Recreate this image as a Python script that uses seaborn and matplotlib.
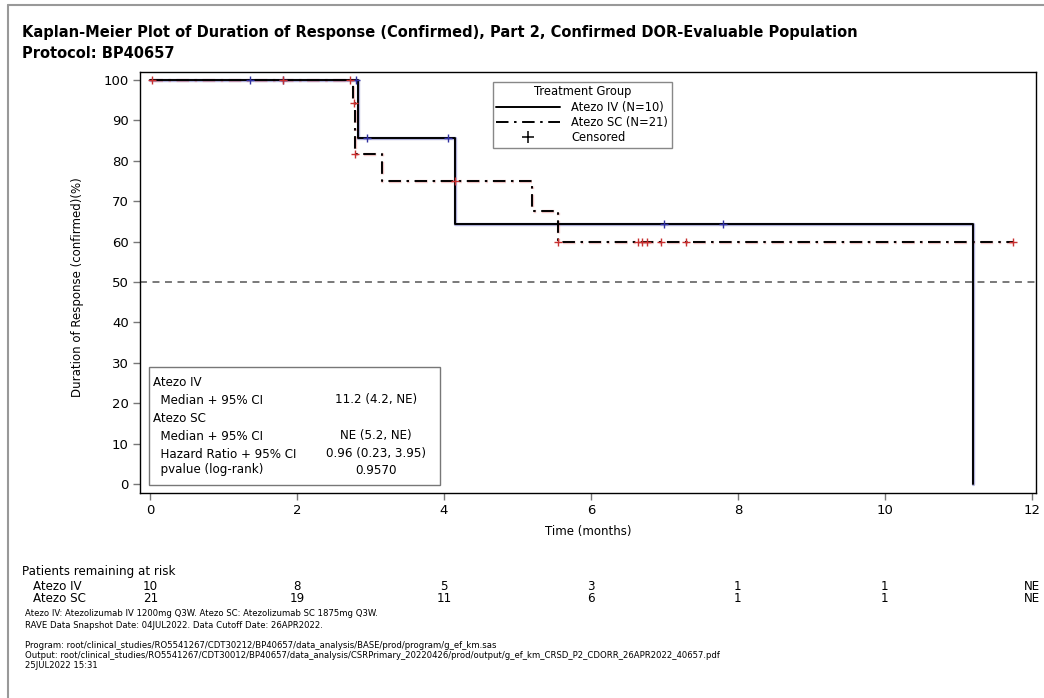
import matplotlib
matplotlib.use("Agg")
import matplotlib.pyplot as plt
import matplotlib.transforms as mtransforms
from matplotlib.lines import Line2D
from matplotlib.patches import Rectangle
import seaborn as sns
import pandas as pd

# ---------------- data ----------------
iv_time = [0, 2.83, 4.15, 11.2]
iv_surv = [100, 85.7, 64.3, 0]
sc_time = [0, 2.76, 2.79, 3.16, 5.2, 5.55, 11.75]
sc_surv = [100, 94.4, 81.8, 75, 67.5, 60, 60]

iv_cens_time = [1.36, 1.81, 2.80, 2.95, 4.05, 7.0, 7.8]
iv_cens_surv = [100, 100, 100, 85.7, 85.7, 64.3, 64.3]
sc_cens_time = [0.02, 1.81, 2.72, 2.77, 2.79, 4.15, 5.55, 6.64, 6.70, 6.76, 6.95, 7.3, 11.75]
sc_cens_surv = [100, 100, 100, 94.4, 81.8, 75, 60, 60, 60, 60, 60, 60, 60]

xticks = [0, 2, 4, 6, 8, 10, 12]
yticks = [0, 10, 20, 30, 40, 50, 60, 70, 80, 90, 100]
risk_iv = ["10", "8", "5", "3", "1", "1", "NE"]
risk_sc = ["21", "19", "11", "6", "1", "1", "NE"]

stats_labels = ["Atezo IV", "  Median + 95% CI", "Atezo SC", "  Median + 95% CI",
                "  Hazard Ratio + 95% CI", "  pvalue (log-rank)"]
stats_values = ["", "11.2 (4.2, NE)", "", "NE (5.2, NE)", "0.96 (0.23, 3.95)", "0.9570"]

title_lines = ["Kaplan-Meier Plot of Duration of Response (Confirmed), Part 2, Confirmed DOR-Evaluable Population",
               "Protocol: BP40657"]
footnotes = [
    "Atezo IV: Atezolizumab IV 1200mg Q3W. Atezo SC: Atezolizumab SC 1875mg Q3W.",
    "RAVE Data Snapshot Date: 04JUL2022. Data Cutoff Date: 26APR2022.",
    "",
    "Program: root/clinical_studies/RO5541267/CDT30212/BP40657/data_analysis/BASE/prod/program/g_ef_km.sas",
    "Output: root/clinical_studies/RO5541267/CDT30012/BP40657/data_analysis/CSRPrimary_20220426/prod/output/g_ef_km_CRSD_P2_CDORR_26APR2022_40657.pdf",
    "25JUL2022 15:31",
]

# ---------------- style ----------------
sns.set_theme(style="ticks")
plt.rcParams["font.family"] = ["DejaVu Sans"]
plt.rcParams["lines.scale_dashes"] = False
plt.rcParams["text.color"] = "black"
plt.rcParams["axes.labelcolor"] = "black"
plt.rcParams["xtick.color"] = "black"
plt.rcParams["ytick.color"] = "black"

W, H = 1044, 698
fig = plt.figure(figsize=(W / 100, H / 100), dpi=100)
fig.patch.set_facecolor("white")

def fx(px):
    return px / W

def fy(py):
    return 1 - py / H

ax_l, ax_r, ax_t, ax_b = 140, 1036, 72, 493
ax = fig.add_axes([fx(ax_l), fy(ax_b), fx(ax_r - ax_l), (ax_b - ax_t) / H])

iv_df = pd.DataFrame({"t": iv_time, "s": iv_surv})
sc_df = pd.DataFrame({"t": sc_time, "s": sc_surv})

dashdot = (0, (9, 4, 1.8, 4))

# 50% reference line
ax.axhline(50, color="#555555", lw=1.1, ls=(0, (5, 4)), zorder=1)

# Atezo IV (solid) with slight blue halo
sns.lineplot(data=iv_df, x="t", y="s", drawstyle="steps-post", estimator=None, sort=False,
             color="#3a3aa0", lw=2.4, alpha=0.4, ax=ax, zorder=2)
sns.lineplot(data=iv_df, x="t", y="s", drawstyle="steps-post", estimator=None, sort=False,
             color="black", lw=1.4, ax=ax, zorder=3)
# Atezo SC (dash-dot) with red halo
sns.lineplot(data=sc_df, x="t", y="s", drawstyle="steps-post", estimator=None, sort=False,
             color="#d04040", lw=2.4, alpha=0.3, ls=dashdot, ax=ax, zorder=2)
sns.lineplot(data=sc_df, x="t", y="s", drawstyle="steps-post", estimator=None, sort=False,
             color="black", lw=1.4, ls=dashdot, ax=ax, zorder=3)

# censor marks
sns.scatterplot(x=iv_cens_time, y=iv_cens_surv, marker="+", s=28, color="#3030a0",
                linewidth=1.0, ax=ax, zorder=4)
sns.scatterplot(x=sc_cens_time, y=sc_cens_surv, marker="+", s=28, color="#c83030",
                linewidth=1.0, ax=ax, zorder=4)

ax.set_xlim(-0.14, 12.06)
ax.set_ylim(-2.2, 102)
ax.set_xticks(xticks)
ax.set_yticks(yticks)
ax.set_xticklabels([str(v) for v in xticks], fontsize=9.5)
ax.set_yticklabels([str(v) for v in yticks], fontsize=9.5)
ax.tick_params(direction="out", length=5, width=1, color="#777777", pad=3, labelcolor="black")
ax.set_xlabel("")
ax.set_ylabel("")
for sp in ax.spines.values():
    sp.set_visible(True)
    sp.set_color("black")
    sp.set_linewidth(1.0)

# legend
handles = [
    Line2D([], [], color="black", lw=1.4),
    Line2D([], [], color="black", lw=1.4, ls=dashdot),
    Line2D([], [], color="black", marker="+", ls="none", markersize=8, markeredgewidth=1.1),
]
leg = ax.legend(handles, ["Atezo IV (N=10)", "Atezo SC (N=21)", "Censored"],
                title="Treatment Group", loc="upper left",
                bbox_to_anchor=((493 - ax_l) / (ax_r - ax_l), (ax_b - 82) / (ax_b - ax_t)),
                borderaxespad=0, fontsize=8.3, title_fontsize=8.3, handlelength=5.5,
                handletextpad=1.0, labelspacing=0.2, borderpad=0.3,
                fancybox=False, frameon=True, edgecolor="#888888", framealpha=1)
leg.get_frame().set_linewidth(1.0)
for t in leg.get_texts():
    t.set_color("black")
leg.get_title().set_color("black")

# axis labels
fig.text(fx(78), fy(287), "Duration of Response (confirmed)(%)", rotation=90,
         ha="center", va="center", fontsize=8.5)
fig.text(fx(588), fy(532), "Time (months)", ha="center", va="center", fontsize=8.5)

# title
fig.text(fx(22), fy(33), title_lines[0], ha="left", va="center", fontsize=10.5, weight="bold")
fig.text(fx(22), fy(53), title_lines[1], ha="left", va="center", fontsize=10.5, weight="bold")

# outer frame (left and top)
fig.add_artist(Line2D([fx(8), fx(8)], [0, fy(5)], transform=fig.transFigure, color="#999999", lw=1.5))
fig.add_artist(Line2D([fx(8), 1], [fy(5), fy(5)], transform=fig.transFigure, color="#999999", lw=1.5))

# statistics box
box_l, box_r, box_t, box_b = 149, 440, 367, 485
fig.add_artist(Rectangle((fx(box_l), fy(box_b)), fx(box_r - box_l), (box_b - box_t) / H,
                         transform=fig.transFigure, fill=True, facecolor="white",
                         edgecolor="#777777", lw=1.0, zorder=5))
row_y = [382, 400, 418, 436, 454, 470]
for lab, val, yy in zip(stats_labels, stats_values, row_y):
    fig.text(fx(153), fy(yy), lab, ha="left", va="center", fontsize=8.6, zorder=6)
    if val:
        fig.text(fx(376), fy(yy), val, ha="center", va="center", fontsize=8.6, zorder=6)

# at-risk table
fig.text(fx(22), fy(572), "Patients remaining at risk", ha="left", va="center", fontsize=8.6)
fig.text(fx(33), fy(587), "Atezo IV", ha="left", va="center", fontsize=8.6)
fig.text(fx(33), fy(599), "Atezo SC", ha="left", va="center", fontsize=8.6)
blend = mtransforms.blended_transform_factory(ax.transData, fig.transFigure)
for xv, a, b in zip(xticks, risk_iv, risk_sc):
    fig.text(xv, fy(587), a, transform=blend, ha="center", va="center", fontsize=8.6)
    fig.text(xv, fy(599), b, transform=blend, ha="center", va="center", fontsize=8.6)

# footnotes
foot_y = [614, 625, 636, 646, 656, 666]
for txt, yy in zip(footnotes, foot_y):
    if txt:
        fig.text(fx(25), fy(yy), txt, ha="left", va="center", fontsize=6.1)

fig.savefig("out.png", dpi=100)
